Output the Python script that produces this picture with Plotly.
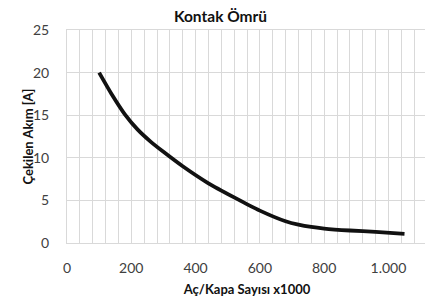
import plotly.graph_objects as go

cycles_k = [100, 140, 180, 220, 260, 300, 360, 440, 520, 600, 680, 720, 760, 800, 880, 960, 1050]
current_a = [20, 17.4, 15.1, 13.3, 11.9, 10.7, 9.0, 7.0, 5.35, 3.8, 2.55, 2.15, 1.88, 1.7, 1.47, 1.3, 1.08]

x_tick_vals = [0, 200, 400, 600, 800, 1000]
x_tick_text = ["0", "200", "400", "600", "800", "1.000"]
y_tick_vals = [0, 5, 10, 15, 20, 25]

title_text = "Kontak Ömrü"
x_title = "Aç/Kapa Sayısı x1000"
y_title = "Çekilen Akım [A]"

grid = "#d9d9d9"
font_family = "Lato, Carlito, Open Sans, sans-serif"

# page body has an 8px default margin, so the figure is sized to fit the window
fig = go.Figure()
fig.add_trace(go.Scatter(
    x=cycles_k, y=current_a, mode="lines",
    line=dict(color="#111111", width=3.8, shape="spline", smoothing=0.6),
    showlegend=False, hoverinfo="skip",
))

fig.update_layout(
    width=425, height=293,
    margin=dict(l=59, r=6, t=22, b=58, autoexpand=False),
    paper_bgcolor="white", plot_bgcolor="white",
    font=dict(family=font_family, color="#404040", size=14),
    title=dict(text="<b>" + title_text + "</b>", x=0.5, xanchor="center",
               y=1 - 9 / 293, yanchor="middle", font=dict(size=15.5, color="#111111")),
)
fig.add_annotation(
    text="<b>" + y_title + "</b>", textangle=-90,
    xref="paper", yref="paper", x=-40 / 360, y=0.5,
    xanchor="center", yanchor="middle", showarrow=False,
    font=dict(size=13, color="#111111"),
)
fig.update_xaxes(
    range=[0, 1120], tickvals=x_tick_vals, ticktext=x_tick_text,
    showgrid=True, gridcolor=grid, gridwidth=1,
    minor=dict(dtick=40, showgrid=True, gridcolor=grid, gridwidth=1),
    showline=True, linecolor=grid, linewidth=1, mirror=True,
    zeroline=False, ticks="", ticklabelstandoff=12, automargin=False,
    title=dict(text="<b>" + x_title + "</b>", font=dict(size=13, color="#111111"), standoff=10),
    tickfont=dict(size=14, color="#404040"),
)
fig.update_yaxes(
    range=[0, 25], tickvals=y_tick_vals,
    showgrid=True, gridcolor=grid, gridwidth=1,
    showline=True, linecolor=grid, linewidth=1, mirror=True,
    zeroline=False, ticks="", ticklabelstandoff=14, automargin=False,
    tickfont=dict(size=14, color="#404040"),
)

fig.write_html("out.html")
